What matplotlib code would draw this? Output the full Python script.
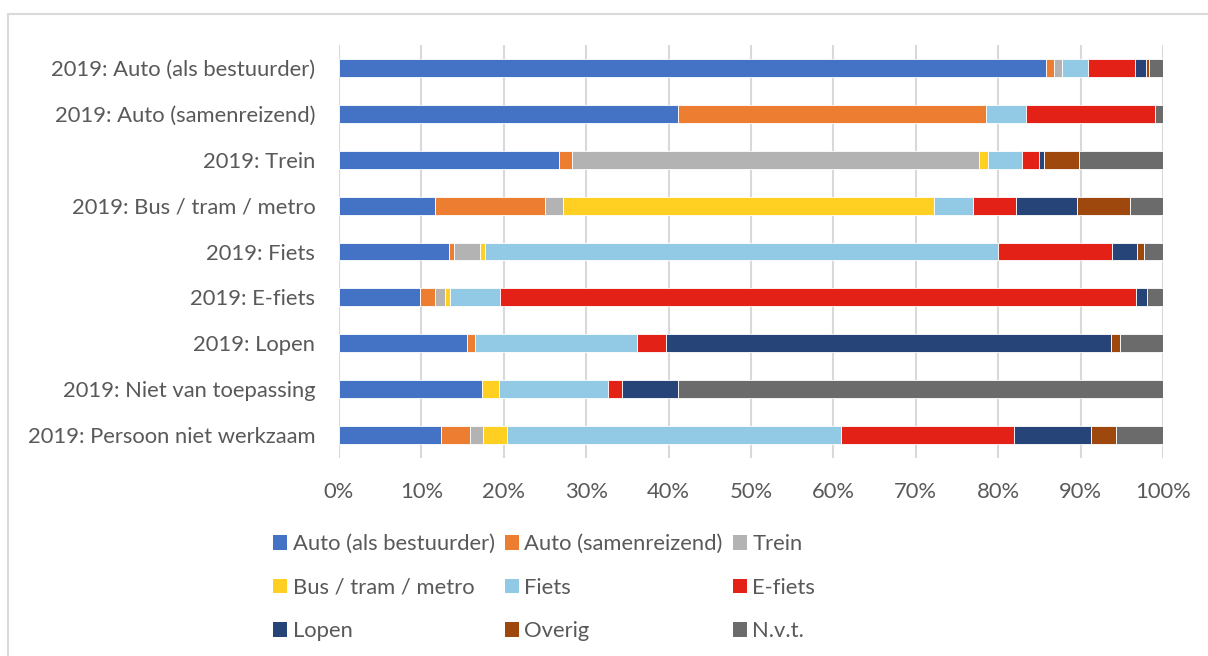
import numpy as np
import matplotlib.pyplot as plt
from matplotlib.patches import Rectangle, Patch

plt.rcParams['font.family'] = ['Lato', 'DejaVu Sans']

categories = ['2019: Auto (als bestuurder)', '2019: Auto (samenreizend)', '2019: Trein',
              '2019: Bus / tram / metro', '2019: Fiets', '2019: E-fiets', '2019: Lopen',
              '2019: Niet van toepassing', '2019: Persoon niet werkzaam']

modes = ['Auto (als bestuurder)', 'Auto (samenreizend)', 'Trein', 'Bus / tram / metro',
         'Fiets', 'E-fiets', 'Lopen', 'Overig', 'N.v.t.']

colors = ['#4472C4', '#ED7D31', '#B3B3B3', '#FFD022', '#92CAE6',
          '#E42116', '#264478', '#9E480E', '#6B6B6B']

# share (%) per mode, one list per category row
auto_bestuurder = [85.8, 41.1, 26.7, 11.7, 13.4, 9.8, 15.5, 17.4, 12.4]
auto_samen      = [1.0, 37.4, 1.6, 13.3, 0.6, 1.8, 1.0, 0.0, 3.5]
trein           = [1.0, 0.0, 49.4, 2.2, 3.1, 1.3, 0.0, 0.0, 1.6]
bus_tram_metro  = [0.0, 0.0, 1.1, 45.0, 0.6, 0.6, 0.0, 2.0, 2.9]
fiets           = [3.1, 4.9, 4.1, 4.7, 62.3, 6.1, 19.7, 13.3, 40.5]
e_fiets         = [5.7, 15.6, 2.1, 5.3, 13.8, 77.1, 3.5, 1.6, 21.0]
lopen           = [1.3, 0.0, 0.6, 7.4, 3.1, 1.4, 54.0, 6.8, 9.4]
overig          = [0.4, 0.0, 4.2, 6.4, 0.8, 0.0, 1.1, 0.0, 3.0]
nvt             = [1.7, 1.0, 10.2, 4.0, 2.3, 1.9, 5.2, 58.9, 5.7]

series = [auto_bestuurder, auto_samen, trein, bus_tram_metro, fiets,
          e_fiets, lopen, overig, nvt]

fs = 15.8

fig = plt.figure(figsize=(12.08, 6.56), dpi=100)
ax = fig.add_axes([0.2806, 0.3018, 0.6821, 0.6296])

# chart frame
fig.patches.append(Rectangle((8 / 1208, -0.05), 1.1, 1 - 14 / 656 + 0.05,
                             transform=fig.transFigure, fill=False,
                             edgecolor='#D9D9D9', linewidth=1.5))

y = np.arange(len(categories))
left = np.zeros(len(categories))
for name, vals, col in zip(modes, series, colors):
    vals = np.array(vals)
    ax.barh(y, vals, left=left, height=0.39, color=col, edgecolor='white',
            linewidth=0.6, label=name, zorder=3)
    left += vals

ax.set_ylim(len(categories) - 0.5, -0.5)
ax.set_xlim(0, 100)
ax.set_yticks(y)
ax.set_yticklabels(categories)
ax.set_xticks(np.arange(0, 101, 10))
ax.set_xticklabels([f'{v}%' for v in range(0, 101, 10)])
ax.tick_params(axis='both', length=0, labelsize=fs, colors='#595959')
ax.tick_params(axis='y', pad=17)
ax.tick_params(axis='x', pad=17)
ax.grid(axis='x', color='#D9D9D9', linewidth=1.5, zorder=0)
for s in ax.spines.values():
    s.set_visible(False)

# legend in three columns, filled column by column
order = [0, 3, 6, 1, 4, 7, 2, 5, 8]
handles = [Patch(facecolor=colors[i], edgecolor='none') for i in order]
labels = [modes[i] for i in order]
leg = fig.legend(handles, labels, ncol=3, loc='upper left',
                 bbox_to_anchor=(262 / 1208, 1 - 523 / 656), frameon=False,
                 fontsize=fs, handlelength=0.65, handleheight=0.65,
                 handletextpad=0.25, columnspacing=0.45, labelspacing=1.08,
                 borderpad=0)
for t in leg.get_texts():
    t.set_color('#595959')

fig.savefig('out.png', dpi=100)
